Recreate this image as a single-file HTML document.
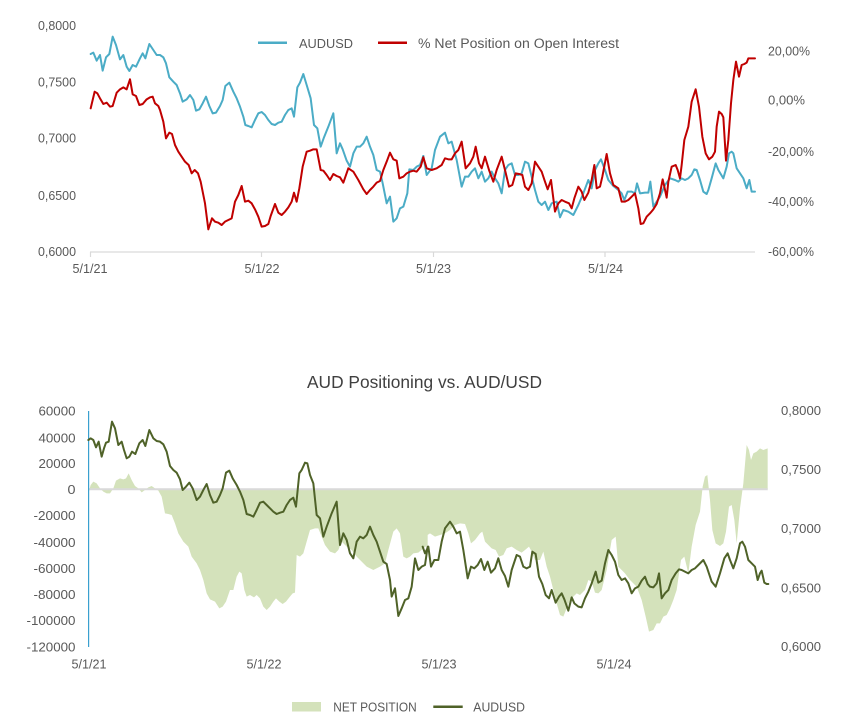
<!DOCTYPE html>
<html><head><meta charset="utf-8"><style>
html,body{margin:0;padding:0;background:#fff;}
svg{display:block;font-family:"Liberation Sans",sans-serif;}
</style></head><body>
<svg width="855" height="724" viewBox="0 0 855 724" xmlns="http://www.w3.org/2000/svg">
<rect width="855" height="724" fill="#fff"/>
<!-- ===== TOP CHART ===== -->
<g fill="#595959" font-size="12.5">
<text x="76" y="30" text-anchor="end" textLength="38" lengthAdjust="spacingAndGlyphs">0,8000</text>
<text x="76" y="86.5" text-anchor="end" textLength="38" lengthAdjust="spacingAndGlyphs">0,7500</text>
<text x="76" y="142.5" text-anchor="end" textLength="38" lengthAdjust="spacingAndGlyphs">0,7000</text>
<text x="76" y="200" text-anchor="end" textLength="38" lengthAdjust="spacingAndGlyphs">0,6500</text>
<text x="76" y="256" text-anchor="end" textLength="38" lengthAdjust="spacingAndGlyphs">0,6000</text>
<text x="768" y="55.5" textLength="42" lengthAdjust="spacingAndGlyphs">20,00%</text>
<text x="768" y="104.5" textLength="37" lengthAdjust="spacingAndGlyphs">0,00%</text>
<text x="768" y="156" textLength="46" lengthAdjust="spacingAndGlyphs">-20,00%</text>
<text x="768" y="206" textLength="46" lengthAdjust="spacingAndGlyphs">-40,00%</text>
<text x="768" y="256" textLength="46" lengthAdjust="spacingAndGlyphs">-60,00%</text>
<text x="90" y="273" text-anchor="middle" textLength="35" lengthAdjust="spacingAndGlyphs">5/1/21</text>
<text x="262" y="273" text-anchor="middle" textLength="35" lengthAdjust="spacingAndGlyphs">5/1/22</text>
<text x="433.5" y="273" text-anchor="middle" textLength="35" lengthAdjust="spacingAndGlyphs">5/1/23</text>
<text x="605.5" y="273" text-anchor="middle" textLength="35" lengthAdjust="spacingAndGlyphs">5/1/24</text>
</g>
<line x1="90" y1="252" x2="755" y2="252" stroke="#d9d9d9" stroke-width="1.2"/>
<g stroke="#d9d9d9" stroke-width="1.2">
<line x1="90.5" y1="252" x2="90.5" y2="257"/><line x1="261.5" y1="252" x2="261.5" y2="257"/>
<line x1="433.5" y1="252" x2="433.5" y2="257"/><line x1="605" y1="252" x2="605" y2="257"/>
</g>
<!-- legend top -->
<line x1="258" y1="42.7" x2="287" y2="42.7" stroke="#4bacc6" stroke-width="2.5"/>
<text x="299" y="48" fill="#595959" font-size="13" textLength="54" lengthAdjust="spacingAndGlyphs">AUDUSD</text>
<line x1="378" y1="42.7" x2="407" y2="42.7" stroke="#c00000" stroke-width="2.5"/>
<text x="418" y="48" fill="#595959" font-size="13.5" textLength="201" lengthAdjust="spacingAndGlyphs">% Net Position on Open Interest</text>

<g fill="none" stroke-linejoin="round" stroke-linecap="round">
<g transform="scale(0.333333)">
<polyline vector-effect="non-scaling-stroke" stroke="#4bacc6" stroke-width="2" points="272,162 280,158 290,182 300,165 308,212 318,172 328,162 338,110 348,135 360,178 370,165 380,200 388,213 398,195 408,200 420,175 428,160 436,175 448,132 460,150 470,165 480,165 490,172 498,190 508,232 520,245 530,255 540,280 548,305 560,298 570,285 580,300 588,332 598,328 608,310 618,290 628,318 638,340 648,338 660,318 668,300 676,258 688,248 700,275 710,295 720,320 730,350 736,375 745,378 755,382 765,360 775,340 785,336 795,345 805,360 815,372 825,375 835,368 845,365 855,345 865,330 875,325 882,350 892,262 900,248 910,222 920,255 932,295 942,375 952,385 962,440 972,412 985,380 1000,340 1010,460 1020,430 1028,448 1040,482 1050,500 1060,460 1070,440 1080,440 1090,430 1100,410 1110,440 1120,465 1130,510 1140,515 1148,550 1160,610 1170,590 1180,665 1190,655 1200,625 1210,620 1222,580 1228,508 1240,510 1250,500 1260,495 1270,468"/>
</g>
<g transform="translate(425,0) scale(0.333333)">
<polyline vector-effect="non-scaling-stroke" stroke="#4bacc6" stroke-width="2" points="-5,468 5,525 20,505 30,450 45,410 60,398 70,430 80,425 95,480 110,560 120,530 130,530 140,515 150,505 160,535 170,515 180,545 190,535 200,515 210,535 220,550 230,580 240,510 250,495 260,490 270,525 280,525 290,520 300,485 310,490 320,530 330,570 340,605 350,615 360,605 370,630 380,610 395,605 405,652 415,630 430,635 445,645 460,615 475,580 490,540 500,565 510,510 520,490 528,478 540,510 550,540 565,558 580,570 590,580 598,600 608,575 620,575 630,580 636,550 645,580 660,578 670,578 676,545 685,620 695,605 705,590 720,555 735,535 750,540 760,545 770,535 780,540 790,535 800,525 808,508 815,510 825,540 835,575 845,582 850,570 860,535 872,490 880,510 895,535 905,500 912,460 920,455 925,460 935,505 945,520 955,535 965,565 973,540 980,575 990,575"/>
</g>
<g transform="scale(0.333333)">
<polyline vector-effect="non-scaling-stroke" stroke="#c00000" stroke-width="2" points="272,325 278,300 284,275 292,280 300,295 310,312 320,308 330,320 338,318 350,278 360,268 370,262 380,268 390,238 398,283 408,288 418,315 428,312 440,298 450,292 458,290 465,310 475,318 480,330 490,365 498,415 508,398 516,402 525,435 535,455 545,470 555,485 566,495 575,520 584,510 594,520 602,545 615,610 625,688 636,655 645,665 655,668 665,675 675,665 685,660 695,655 705,605 715,585 725,558 735,605 745,602 755,610 765,628 775,650 785,680 795,678 805,672 812,648 825,612 835,638 845,645 855,635 865,622 875,605 882,578 890,605 898,565 908,500 920,455 930,452 940,448 950,448 962,510 970,512 980,525 990,540 1000,522 1010,528 1020,532 1030,548 1045,505 1060,515 1075,540 1090,568 1100,582 1110,570 1120,560 1130,548 1140,543 1150,510 1160,485 1170,458 1180,478 1190,482 1198,535 1210,530 1220,520 1230,515 1240,512 1250,515 1262,500 1270,472"/>
</g>
<g transform="translate(425,0) scale(0.333333)">
<polyline vector-effect="non-scaling-stroke" stroke="#c00000" stroke-width="2" points="-5,472 5,505 20,510 35,505 50,495 60,475 70,478 80,478 90,460 100,450 110,425 122,505 135,490 145,470 152,440 162,490 170,505 180,470 192,510 205,545 215,510 230,470 240,510 252,560 262,555 272,520 282,522 292,525 300,560 310,570 320,550 330,485 340,500 350,515 360,545 368,568 378,540 390,635 400,610 410,600 420,605 432,610 440,625 448,595 460,560 470,575 478,600 490,578 500,540 508,495 515,565 525,560 532,530 545,462 555,520 565,555 580,565 590,605 600,605 610,600 620,590 630,580 640,625 647,672 655,670 665,650 675,640 685,628 695,612 705,580 713,538 718,560 725,593 730,545 740,500 752,495 758,510 765,535 770,495 778,420 790,380 800,305 812,268 822,320 832,410 842,460 852,478 862,470 870,455 875,380 882,335 890,342 895,352 903,482 910,420 918,310 925,240 933,185 942,230 950,195 958,192 965,188 970,175 980,175 990,175"/>
</g>
</g>

<!-- ===== BOTTOM CHART ===== -->
<text x="424.5" y="388" text-anchor="middle" fill="#404040" font-size="17.5" textLength="235" lengthAdjust="spacingAndGlyphs">AUD Positioning vs. AUD/USD</text>

<!-- fill -->
<g fill="#d4e2bb" stroke="none">
<g transform="translate(0,360) scale(0.333333)">
<polygon points="265,400 272,375 280,365 290,370 300,385 310,395 320,400 330,400 340,385 348,362 360,355 370,358 378,355 386,340 395,360 405,378 415,385 425,397 435,390 445,382 455,378 465,385 475,392 485,410 495,460 505,462 515,465 525,490 535,520 550,545 565,560 575,590 590,610 600,630 610,660 620,700 630,718 645,725 658,745 668,740 678,725 690,690 700,690 710,650 718,635 725,640 733,690 740,710 750,705 762,712 770,705 780,715 790,740 800,750 810,740 820,725 828,715 838,725 848,732 858,725 868,712 878,700 885,698 890,585 900,590 910,580 920,545 930,510 945,505 955,505 965,530 975,555 990,575 1005,580 1015,570 1025,545 1040,560 1055,570 1070,590 1085,605 1100,620 1120,630 1140,620 1155,610 1165,570 1180,515 1190,505 1200,520 1210,590 1220,595 1230,590 1240,580 1255,578 1270,565 1283,555 1283,388 265,388"/>
</g>
<g transform="translate(425,360) scale(0.333333)">
<polygon points="-8,545 0,530 15,520 30,530 45,525 60,520 75,510 90,495 105,490 120,492 130,520 138,550 150,540 165,520 172,515 180,545 190,555 200,565 212,570 222,590 235,585 245,565 260,560 275,570 290,578 300,570 312,560 320,575 330,600 345,600 355,575 365,620 375,650 385,690 395,730 405,765 415,770 425,745 435,720 445,710 455,700 465,705 480,690 490,660 500,665 510,698 520,700 530,690 545,630 560,540 572,530 580,620 600,640 615,660 635,680 650,720 662,770 672,815 685,810 695,790 705,790 715,770 725,765 735,745 745,720 755,690 768,600 778,590 790,640 800,560 812,495 825,455 833,380 840,350 847,345 855,420 862,510 872,550 885,558 895,550 903,515 912,440 920,435 928,480 935,550 945,445 955,370 965,255 972,270 978,300 985,280 995,275 1005,265 1015,270 1028,265 1028,388 -8,388"/>
</g>
</g>
<!-- zero line & axis -->
<line x1="88" y1="489.3" x2="767.7" y2="489.3" stroke="#d9d9d9" stroke-width="2"/>
<line x1="88.6" y1="411" x2="88.6" y2="647" stroke="#3aa0cf" stroke-width="1.2"/>

<g fill="none" stroke-linejoin="round" stroke-linecap="round">
<g transform="translate(0,360) scale(0.333333)">
<polyline vector-effect="non-scaling-stroke" stroke="#4f6228" stroke-width="2" points="265,240 272,235 280,240 288,262 296,245 305,290 312,265 318,248 326,245 336,185 345,205 355,255 365,245 372,270 380,295 388,290 396,275 406,282 418,250 428,240 436,258 448,210 460,235 470,243 480,245 490,253 500,275 510,318 520,330 530,338 540,358 548,390 558,380 568,368 578,385 590,420 600,410 610,390 620,372 630,405 640,428 650,425 660,405 668,385 678,338 688,332 698,355 710,375 720,395 730,420 740,462 750,465 760,470 770,450 780,428 790,425 800,435 810,445 820,455 830,462 840,458 850,455 860,435 870,420 880,413 888,440 898,340 905,330 915,308 922,310 930,345 940,370 950,465 960,475 970,530 980,500 995,460 1010,425 1020,555 1030,520 1040,540 1050,580 1060,595 1070,545 1080,530 1090,535 1100,525 1110,500 1120,525 1130,545 1140,575 1150,605 1160,612 1170,660 1175,710 1185,685 1195,768 1205,745 1215,720 1225,715 1235,680 1245,595 1255,630 1265,620 1275,615 1283,560"/>
</g>
<g transform="translate(425,360) scale(0.333333)">
<polyline vector-effect="non-scaling-stroke" stroke="#4f6228" stroke-width="2" points="-7,560 0,580 10,560 18,620 28,600 40,600 50,545 60,505 75,485 85,500 95,520 105,515 115,570 128,655 138,620 148,625 158,615 168,597 178,630 188,605 198,638 210,625 220,595 230,630 240,648 250,680 260,630 275,585 285,590 295,620 305,625 315,620 322,575 332,582 342,650 352,672 362,705 372,715 380,690 392,728 402,710 410,700 418,718 430,752 440,712 448,730 460,740 470,742 480,715 490,695 500,670 512,635 520,668 530,662 540,610 550,570 560,585 570,605 580,645 590,660 600,655 610,670 620,700 630,685 640,680 650,662 660,650 668,672 675,680 685,682 695,670 702,640 710,715 720,700 730,690 740,660 752,640 762,628 770,630 790,640 800,630 810,625 820,615 835,600 845,620 860,665 872,680 885,640 898,595 908,580 915,600 925,625 935,595 945,550 952,545 960,560 970,600 980,610 990,620 998,660 1005,640 1010,632 1018,668 1025,672 1030,672"/>
</g>
</g>

<g fill="#595959" font-size="13.3">
<text x="75.5" y="415.5" text-anchor="end" textLength="37" lengthAdjust="spacingAndGlyphs">60000</text>
<text x="75.5" y="442.5" text-anchor="end" textLength="37" lengthAdjust="spacingAndGlyphs">40000</text>
<text x="75.5" y="468" text-anchor="end" textLength="37" lengthAdjust="spacingAndGlyphs">20000</text>
<text x="75.5" y="494" text-anchor="end" textLength="8" lengthAdjust="spacingAndGlyphs">0</text>
<text x="75.5" y="520" text-anchor="end" textLength="42" lengthAdjust="spacingAndGlyphs">-20000</text>
<text x="75.5" y="547" text-anchor="end" textLength="42" lengthAdjust="spacingAndGlyphs">-40000</text>
<text x="75.5" y="573" text-anchor="end" textLength="42" lengthAdjust="spacingAndGlyphs">-60000</text>
<text x="75.5" y="599" text-anchor="end" textLength="42" lengthAdjust="spacingAndGlyphs">-80000</text>
<text x="75.5" y="625" text-anchor="end" textLength="49" lengthAdjust="spacingAndGlyphs">-100000</text>
<text x="75.5" y="651.5" text-anchor="end" textLength="49" lengthAdjust="spacingAndGlyphs">-120000</text>
<text x="781" y="415" textLength="40" lengthAdjust="spacingAndGlyphs">0,8000</text>
<text x="781" y="474" textLength="40" lengthAdjust="spacingAndGlyphs">0,7500</text>
<text x="781" y="533" textLength="40" lengthAdjust="spacingAndGlyphs">0,7000</text>
<text x="781" y="592.5" textLength="40" lengthAdjust="spacingAndGlyphs">0,6500</text>
<text x="781" y="651" textLength="40" lengthAdjust="spacingAndGlyphs">0,6000</text>
</g>
<g fill="#595959" font-size="12.5">
<text x="89" y="668.5" text-anchor="middle" textLength="35" lengthAdjust="spacingAndGlyphs">5/1/21</text>
<text x="264" y="668.5" text-anchor="middle" textLength="35" lengthAdjust="spacingAndGlyphs">5/1/22</text>
<text x="439" y="668.5" text-anchor="middle" textLength="35" lengthAdjust="spacingAndGlyphs">5/1/23</text>
<text x="614" y="668.5" text-anchor="middle" textLength="35" lengthAdjust="spacingAndGlyphs">5/1/24</text>
</g>
<!-- legend bottom -->
<rect x="292" y="702" width="29" height="9.5" fill="#d4e2bb"/>
<text x="333.3" y="711.3" fill="#595959" font-size="13" textLength="83.4" lengthAdjust="spacingAndGlyphs">NET POSITION</text>
<line x1="433.3" y1="706.7" x2="462.7" y2="706.7" stroke="#4f6228" stroke-width="2.5"/>
<text x="473.3" y="711.3" fill="#595959" font-size="13" textLength="51.7" lengthAdjust="spacingAndGlyphs">AUDUSD</text>
</svg>
</body></html>
